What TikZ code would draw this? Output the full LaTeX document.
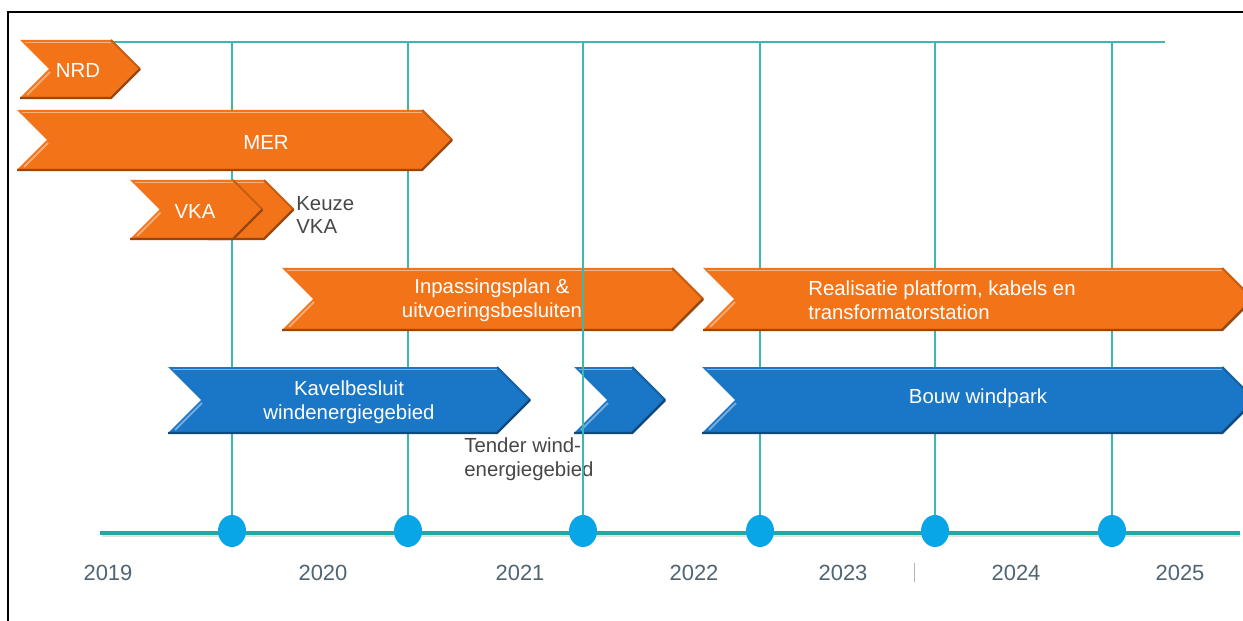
\documentclass[tikz,border=0pt]{standalone}
\usepackage{fontspec}
\setmainfont{Liberation Sans}
\usetikzlibrary{shapes.geometric,positioning}
\definecolor{PlanOrange}{HTML}{F27318}
\definecolor{BuildBlue}{HTML}{1A76C6}
\definecolor{GridTeal}{HTML}{3DB8B0}
\definecolor{AxisTeal}{HTML}{2AA5A5}
\definecolor{DotBlue}{HTML}{08A6E6}
\definecolor{YearGray}{HTML}{4F6573}
\definecolor{NoteGray}{HTML}{474747}

% chevron bar: left x, top-right corner x, top y, bottom y, colour
\newcommand{\chevbar}[5]{%
  \pgfmathsetmacro{\chevd}{(#4-#3)/2}
  \pgfmathsetmacro{\chevm}{(#3+#4)/2}
  \fill[#5] (#1,#3) -- (#2,#3) -- ({#2+\chevd},\chevm) -- (#2,#4) -- (#1,#4) -- ({#1+\chevd},\chevm) -- cycle;
  \draw[#5!55!white, line width=1.1pt] ({#1+5},{#3+2.5}) -- (#2,{#3+2.5});
  \draw[#5!60!white, line width=1.1pt] ({#1+\chevd+1},{\chevm+3}) -- ({#1+7},{#4-3});
  \draw[#5!82!black, line width=1.2pt] (#2,#3) -- ({#2+\chevd},\chevm);
  \draw[#5!62!black, line width=1.4pt] (#1,#4) -- (#2,#4) -- ({#2+\chevd},\chevm);
}

\begin{document}
\begin{tikzpicture}[
    x=0.02cm, y=-0.02cm,
    bar/.style={font=\fontsize{11.6}{13.4}\selectfont, text=white, align=center, inner sep=0pt},
    note/.style={font=\fontsize{11.6}{13.4}\selectfont, text=NoteGray, align=left, inner sep=0pt},
    year/.style={font=\fontsize{12.5}{14}\selectfont, text=YearGray, inner sep=0pt},
    grid/.style={draw=GridTeal, line width=0.85pt},
    dot/.style={ellipse, fill=DotBlue, minimum width=0.56cm, minimum height=0.64cm, inner sep=0pt}
  ]
    \useasboundingbox (0,0) rectangle (1243,621);
    \clip (0,0) rectangle (1243,621);
    \fill[white] (0,0) rectangle (1243,621);

    % frame
    \draw[line width=1.4pt] (8,660) -- (8,12) -- (1280,12);

    % time axis and markers
    \draw[black!12, line width=1.2pt] (102,536) -- (1240,536);
    \draw[AxisTeal, line width=2.3pt] (100,533) -- (1240,533);
    \foreach \i/\xp in {1/232, 2/408, 3/583, 4/760, 5/935, 6/1112}
      \node[dot] (m\i) at (\xp,531) {};
    \draw[grid] (110,42) -- (1165,42);
    \foreach \i/\xp in {1/232, 2/408, 4/760, 5/935, 6/1112}
      \draw[grid] (\xp,42) -- (m\i);

    % years
    \foreach \yr/\xp in {2019/108, 2020/323, 2021/520, 2022/694, 2023/843, 2024/1016, 2025/1180}
      \node[year] (y\yr) at (\xp,573) {\yr};
    \draw[black!30, line width=0.5pt] (914,563) -- (914,582);

    % planning (orange)
    \chevbar{20}{111}{40}{98}{PlanOrange}
    \node[bar] (nrd) at (78,70) {NRD};
    \chevbar{17}{422}{110}{170}{PlanOrange}
    \node[bar] (mer) at (266,142) {MER};
    \chevbar{208}{264}{180}{239}{PlanOrange}
    \chevbar{130}{233}{180}{239}{PlanOrange}
    \node[bar] (vka) at (195,211) {VKA};
    \node[note, anchor=west] (keuze) at (296,215) {Keuze\\VKA};
    \chevbar{282}{672}{268}{330}{PlanOrange}
    \node[bar] (inpas) at (492,300) {Inpassingsplan \&\\uitvoeringsbesluiten};
    \chevbar{703}{1222}{268}{330}{PlanOrange}
    \node[bar, anchor=west, align=left] (realis) at (808,300) {Realisatie platform, kabels en\\transformatorstation};

    % building (blue)
    \chevbar{168}{497}{367}{433}{BuildBlue}
    \node[bar] (kavel) at (349,402) {Kavelbesluit\\windenergiegebied};
    \chevbar{574}{632}{367}{433}{BuildBlue}
    \chevbar{702}{1222}{367}{433}{BuildBlue}
    \node[bar] (bouw) at (978,398) {Bouw windpark};
    \node[note, anchor=west] (tender) at (464,459) {Tender wind-\\energiegebied};

    % marker line in front
    \draw[grid] (583,42) -- (m3);
  \end{tikzpicture}
\end{document}
